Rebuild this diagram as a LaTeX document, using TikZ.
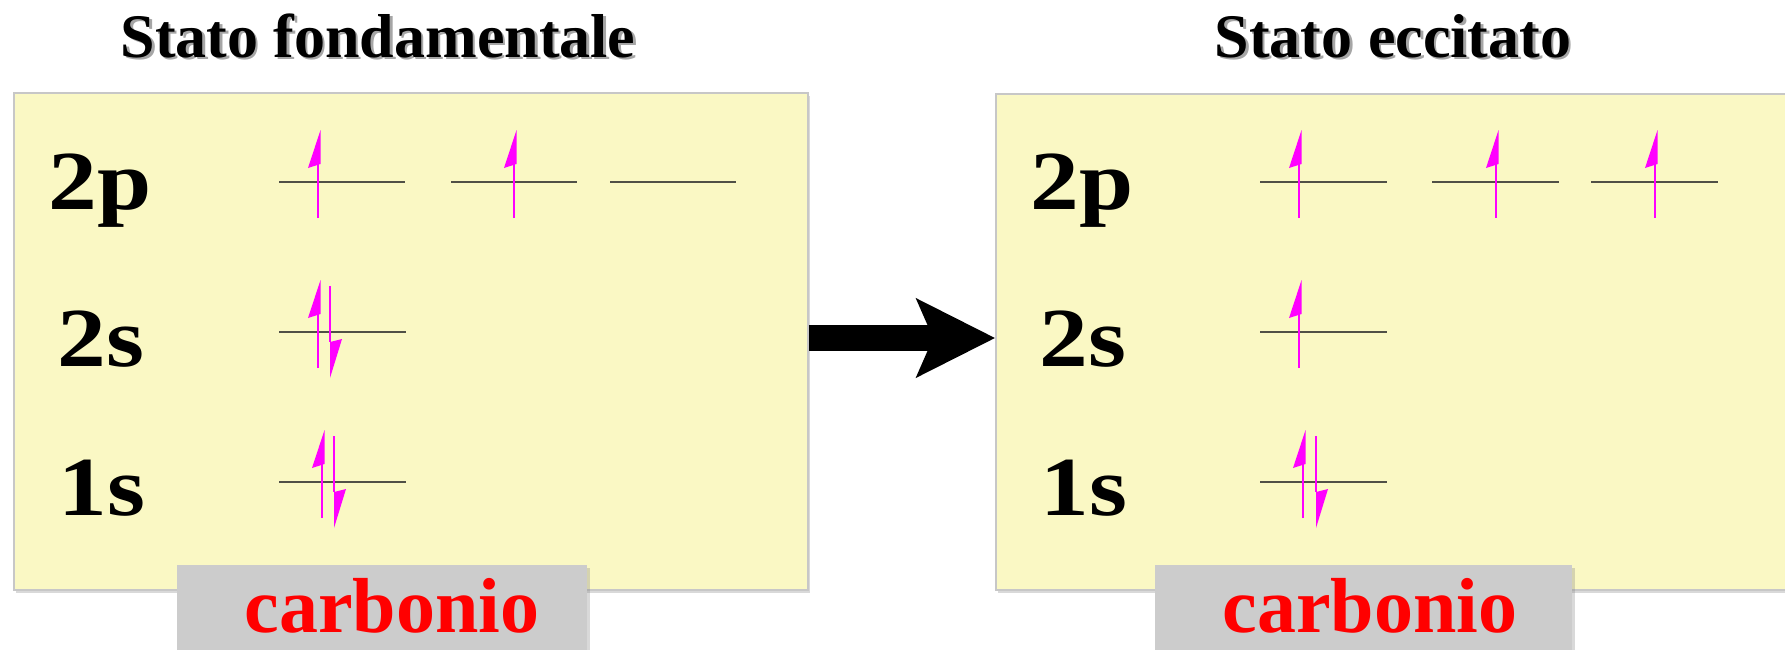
\documentclass[tikz,border=0pt]{standalone}
\usepackage{fontspec}
\setmainfont{Liberation Serif}
\usetikzlibrary{arrows.meta,shadows}
\definecolor{paper}{RGB}{250,248,196}
\definecolor{carbbox}{RGB}{204,204,204}
\definecolor{orbline}{RGB}{80,80,70}
\definecolor{spin}{RGB}{255,0,255}
\newcommand{\widelabel}[1]{\scalebox{1.16}[1]{#1}}
\tikzset{
  panel/.style={draw=black!22, line width=1.5pt, fill=paper, inner sep=0pt,
    drop shadow={shadow xshift=2pt, shadow yshift=-3pt, opacity=0.3}},
  namebox/.style={fill=carbbox, inner sep=0pt,
    drop shadow={shadow xshift=3pt, shadow yshift=-3pt, opacity=0.3}},
  title/.style={font=\fontsize{62}{62}\selectfont\bfseries, anchor=base, inner sep=0pt},
  titleshadow/.style={title, text=black!35},
  level/.style={font=\fontsize{84}{84}\selectfont\bfseries, anchor=base, inner sep=0pt},
  carb/.style={font=\fontsize{78}{78}\selectfont\bfseries, text=red, anchor=base, inner sep=0pt},
  orb/.style={draw=orbline, line width=1.6pt},
  spinline/.style={draw=spin, line width=2pt},
  spinfill/.style={fill=spin},
  spinup/.pic={\draw[spinline] (0,36) -- (0,-18); \fill[spinfill] (2.5,-52) -- (2.5,-18) -- (-10,-14) -- cycle;},
  spindown/.pic={\draw[spinline] (0,-46) -- (0,10); \fill[spinfill] (0,10) -- (12,7) -- (0,46) -- cycle;},
  bigarrow/.style={line width=26pt, -{Stealth[length=78pt, width=77pt, inset=16pt]}}
}
\begin{document}
\begin{tikzpicture}[x=1pt,y=-1pt]
\useasboundingbox (0,0) rectangle (1785,649);
\clip (0,0) rectangle (1785,649);

% panels
\node[panel, minimum width=794pt, minimum height=497pt] (L) at (411,341.5) {};
\node[panel, minimum width=810pt, minimum height=496pt] (R) at (1401,342) {};

% name boxes
\node[namebox, minimum width=410pt, minimum height=100pt] (cbL) at (382,615) {};
\node[namebox, minimum width=417pt, minimum height=100pt] (cbR) at (1363.5,615) {};
\node[carb] (cL) at (392,632) {carbonio};
\node[carb] (cR) at (1370,632) {carbonio};

% titles
\node[titleshadow] (tLs) at (380.5,59.5) {Stato fondamentale};
\node[title] (tL) at (378,57) {Stato fondamentale};
\node[titleshadow] (tRs) at (1395.5,59.5) {Stato eccitato};
\node[title] (tR) at (1393,57) {Stato eccitato};

% level labels
\node[level] (L2p) at (100,209) {\widelabel{2p}};
\node[level] (L2s) at (101,366) {\widelabel{2s}};
\node[level] (L1s) at (102,515) {\widelabel{1s}};
\node[level] (R2p) at (1082,209) {\widelabel{2p}};
\node[level] (R2s) at (1083,366) {\widelabel{2s}};
\node[level] (R1s) at (1084,515) {\widelabel{1s}};

% orbitals, left
\draw[orb] (279,182) -- (405,182);
\draw[orb] (451,182) -- (577,182);
\draw[orb] (610,182) -- (736,182);
\draw[orb] (279,332) -- (406,332);
\draw[orb] (279,482) -- (406,482);
% orbitals, right
\draw[orb] (1260,182) -- (1387,182);
\draw[orb] (1432,182) -- (1559,182);
\draw[orb] (1591,182) -- (1718,182);
\draw[orb] (1260,332) -- (1387,332);
\draw[orb] (1260,482) -- (1387,482);

% electrons, left
\pic at (318,182) {spinup};
\pic at (514,182) {spinup};
\pic at (318,332) {spinup};
\pic at (330,332) {spindown};
\pic at (322,482) {spinup};
\pic at (334,482) {spindown};
% electrons, right
\pic at (1299,182) {spinup};
\pic at (1496,182) {spinup};
\pic at (1655,182) {spinup};
\pic at (1299,332) {spinup};
\pic at (1303,482) {spinup};
\pic at (1316,482) {spindown};

% transition arrow
\coordinate (ay) at (0,338);
\draw[bigarrow] (L.east |- ay) -- (R.west |- ay);
\end{tikzpicture}
\end{document}
